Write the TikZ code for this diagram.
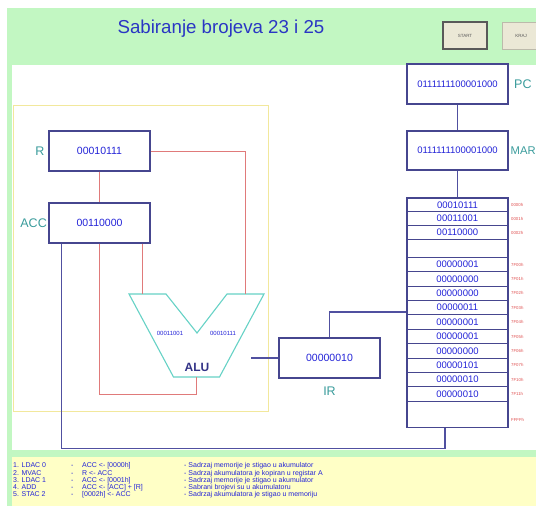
\documentclass[tikz,border=0pt]{standalone}
\usepackage{fontspec}
\setmainfont{Liberation Sans}
\usepackage{array}
\definecolor{bggreen}{HTML}{C2F7C2}
\definecolor{panelyellow}{HTML}{FFFFC6}
\definecolor{boxline}{HTML}{46468F}
\definecolor{busblue}{HTML}{5050A0}
\definecolor{redwire}{HTML}{E07A7A}
\definecolor{yelframe}{HTML}{F2E89C}
\definecolor{alucyan}{HTML}{66D2C6}
\definecolor{valblue}{HTML}{2424D8}
\definecolor{lbteal}{HTML}{3A9C9C}
\definecolor{addrred}{HTML}{E05050}
\definecolor{titleblue}{HTML}{2A36C4}
\definecolor{btnfill}{HTML}{EBE8D6}
\begin{document}
\begin{tikzpicture}[x=1pt,y=-1pt,
  reg/.style={draw=boxline, line width=1.2pt, fill=white, minimum width=101pt, minimum height=40pt, inner sep=0pt, font=\fontsize{10.5}{12}\selectfont, text=valblue},
  cell/.style={draw=boxline, line width=1.1pt, fill=white, minimum width=101pt, inner sep=0pt, font=\fontsize{9.5}{10}\selectfont, text=valblue},
  addr/.style={anchor=west, inner sep=0pt, font=\fontsize{4.3}{5}\selectfont, text=addrred},
  lbl/.style={inner sep=0pt, font=\fontsize{12.5}{14}\selectfont, text=lbteal},
  redl/.style={draw=redwire, line width=1pt},
  busl/.style={draw=busblue, line width=1.1pt},
  btn/.style={fill=btnfill, minimum width=44pt, minimum height=27pt, inner sep=0pt, font=\fontsize{4.5}{5}\selectfont, text=black!65},
  alusmall/.style={inner sep=0pt, font=\fontsize{6}{7}\selectfont, text=valblue}]
\clip (0,0) rectangle (536,506);
\fill[white] (0,0) rectangle (536,506);
\fill[bggreen] (7,8) rectangle (536,506);
\fill[white] (12,65) rectangle (536,450);
\fill[panelyellow] (12,457) rectangle (536,506);
\draw[yelframe, line width=1pt] (13,105) rectangle (268,411);

% title and buttons
\node[anchor=base, inner sep=0pt, text=titleblue, font=\fontsize{18.7}{22}\selectfont] (title) at (221,33.7) {Sabiranje brojeva 23 i 25};
\node[btn, draw=black!65, line width=1.6pt] (start) at (465,35.5) {START};
\node[btn, draw=btnfill!80!black, line width=0.8pt, minimum width=38pt] (kraj) at (521,35.5) {KRAJ};

% ALU
\draw[alucyan, line width=1.1pt, fill=white] (129,294) -- (166,294) -- (197,333) -- (227,294) -- (264,294) -- (219.5,377) -- (173.5,377) -- cycle;
\coordinate (aluA) at (142,294);
\coordinate (aluB) at (245,294);
\coordinate (aluOut) at (196.5,377);
\coordinate (aluR) at (251,358);
\coordinate (fb) at (196.5,394);
\node[alusmall] (alua) at (170,333) {00011001};
\node[alusmall] (alub) at (223,333) {00010111};
\node[inner sep=0pt, font=\bfseries\fontsize{12}{14}\selectfont, text=black!45!blue!60!gray] (alulbl) at (197,367) {ALU};

% registers
\node[reg] (R) at (99.5,151) {00010111};
\node[reg] (ACC) at (99.5,223) {00110000};
\node[reg] (IR) at (329.5,358) {00000010};
\node[reg, font=\fontsize{9.5}{10}\selectfont] (PC) at (457.5,84) {0111111100001000};
\node[reg, font=\fontsize{9.5}{10}\selectfont, minimum height=39pt] (MAR) at (457.5,150.5) {0111111100001000};

\node[lbl] (Rl) at (40,151) {R};
\node[lbl, anchor=east] (ACCl) at (47,223) {ACC};
\node[lbl] (IRl) at (329.5,391) {IR};
\node[lbl, anchor=west] (PCl) at (514,84) {PC};
\node[lbl, anchor=west, font=\fontsize{11.2}{13}\selectfont] (MARl) at (510.5,150.5) {MAR};

% memory
\foreach \n/\yc/\h/\v/\a in {
  m1/204.9/13.8/00010111/0000h,
  m2/218.7/13.8/00011001/0001h,
  m3/232.5/13.8/00110000/0002h,
  m4/248.35/17.9//,
  m5/264.5/14.4/00000001/7F00h,
  m6/278.9/14.4/00000000/7F01h,
  m7/293.3/14.4/00000000/7F02h,
  m8/307.7/14.4/00000011/7F03h,
  m9/322.1/14.4/00000001/7F04h,
  m10/336.5/14.4/00000001/7F05h,
  m11/350.9/14.4/00000000/7F06h,
  m12/365.3/14.4/00000101/7F07h,
  m13/379.7/14.4/00000010/7F10h,
  m14/394.1/14.4/00000010/7F11h}
{
  \node[cell, minimum height=\h pt] (\n) at (457.5,\yc) {\v};
  \node[addr] (\n a) at (511,\yc) {\a};
}
\node[cell, minimum height=26.2pt] (m15) at (457.5,414.4) {};
\node[addr] (m15a) at (511,420) {FFFFh};

% connectors
\draw[busl] (PC.south) -- (MAR.north);
\draw[busl] (MAR.south) -- (m1.north);
\draw[redl] (R.south) -- (ACC.north);
\draw[redl] (R.east) -| (aluB);
\draw[redl] (aluA |- ACC.south) -- (aluA);
\draw[redl] (ACC.south) |- (fb) -- (aluOut);
\draw[busl] ([xshift=13pt]ACC.south west) -- ++(0,205) -| ([xshift=-12.5pt]m15.south);
\draw[busl] (aluR) -- (IR.west);
\draw[busl] (IR.north) |- ([yshift=-4.3pt]m8.west);

% instruction list
\node[anchor=north west, inner sep=0pt, text=valblue, font=\fontsize{7}{7.3}\selectfont] (prog) at (13,462.4) {%
\begin{tabular}{@{}p{58pt}@{}p{11pt}@{}p{102pt}@{}l@{}}
1. LDAC 0 & - & ACC <- [0000h] & - Sadrzaj memorije je stigao u akumulator\\
2. MVAC & - & R <- ACC & - Sadrzaj akumulatora je kopiran u registar A\\
3. LDAC 1 & - & ACC <- [0001h] & - Sadrzaj memorije je stigao u akumulator\\
4. ADD & - & ACC <- [ACC] + [R] & - Sabrani brojevi su u akumulatoru\\
5. STAC 2 & - & [0002h] <- ACC & - Sadrzaj akumulatora je stigao u memoriju
\end{tabular}};
\end{tikzpicture}
\end{document}
